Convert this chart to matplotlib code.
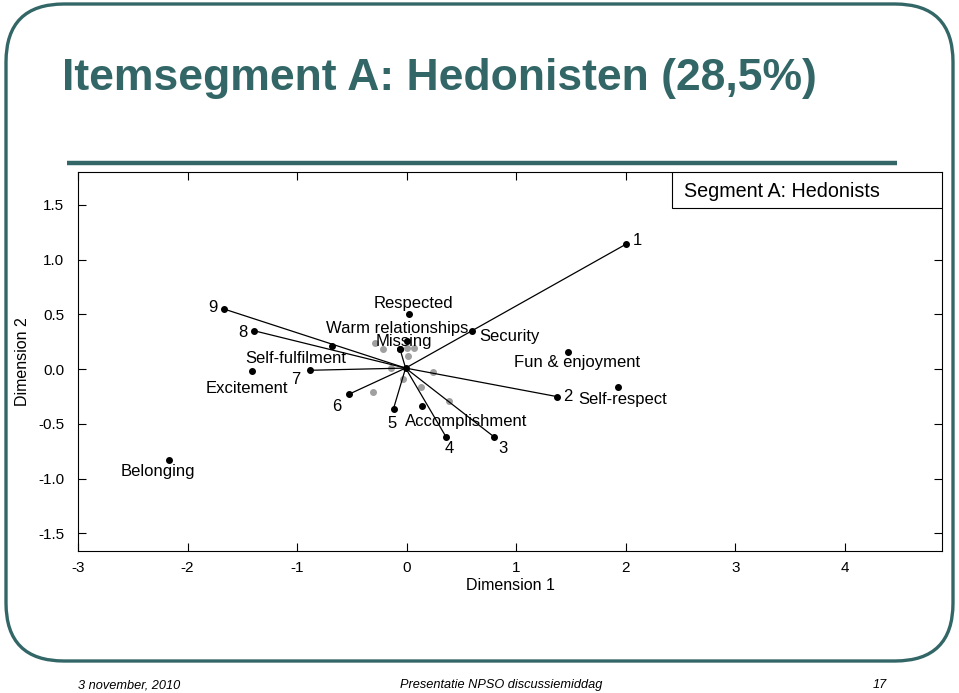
import matplotlib
matplotlib.use("Agg")
import matplotlib.pyplot as plt
from matplotlib.patches import FancyBboxPatch, Rectangle

plt.rcParams['font.family'] = ['Liberation Sans', 'DejaVu Sans']

# item vectors (CATPCA loadings)
vec_labels = ["1", "2", "3", "4", "5", "6", "7", "8", "9", ""]
vec_x = [2.00, 1.37, 0.80, 0.36, -0.12, -0.53, -0.88, -1.39, -1.67, -0.06]
vec_y = [1.14, -0.25, -0.62, -0.62, -0.36, -0.23, -0.01, 0.35, 0.55, 0.18]
origin = (-0.01, 0.01)

# category points
cat_names = ["Respected", "Warm relationships", "Security", "Missing",
             "Fun & enjoyment", "Self-respect", "Accomplishment",
             "Self-fulfilment", "Excitement", "Belonging"]
cat_x = [0.02, 0.00, 0.60, -0.06, 1.47, 1.93, 0.14, -0.68, -1.41, -2.17]
cat_y = [0.50, 0.26, 0.35, 0.18, 0.16, -0.16, -0.34, 0.21, -0.02, -0.83]

# object scores (grey)
obj_x = [-0.29, -0.22, 0.00, 0.07, 0.01, -0.14, -0.03, 0.24, 0.13, -0.31, 0.39]
obj_y = [0.24, 0.18, 0.19, 0.19, 0.12, 0.01, -0.09, -0.03, -0.16, -0.21, -0.29]

xticks = [-3, -2, -1, 0, 1, 2, 3, 4]
yticks = [-1.5, -1.0, -0.5, 0.0, 0.5, 1.0, 1.5]

# label offsets in points
vec_off = [(8, 3), (8, 0), (6.5, -8.5), (2, -8), (-1, -11), (-8.5, -8.5),
           (-10.5, -6.5), (-8.5, -1), (-7.5, 1), (0, 0)]
cat_off = [(3, 8), (-7, 9), (5, -4), (3, 5.5), (6.5, -8), (3, -9),
           (31.5, -11), (-26, -9), (-4, -12.5), (-8, -8.5)]
cat_ha = ["center", "center", "left", "center", "center", "center",
          "center", "center", "center", "center"]

teal = "#336666"
W, H = 959, 693
fig = plt.figure(figsize=(W / 100, H / 100), dpi=100)

# slide background drawn in pixel coordinates
bg = fig.add_axes([0, 0, 1, 1])
bg.set_xlim(0, W)
bg.set_ylim(H, 0)
bg.axis("off")
bg.add_patch(FancyBboxPatch((6, 4), 947, 657,
                            boxstyle="round,pad=0,rounding_size=58",
                            fc="white", ec=teal, lw=2.4))
bg.text(62, 90, "Itemsegment A: Hedonisten (28,5%)", color=teal,
        fontsize=32, fontweight="bold", ha="left", va="baseline")
bg.plot([67, 897], [163, 163], color=teal, lw=3.2, solid_capstyle="butt")
foot = dict(fontsize=9.2, style="italic", va="baseline")
bg.text(78, 688, "3 november, 2010", ha="left", **foot)
bg.text(501, 688, "Presentatie NPSO discussiemiddag", ha="center", **foot)
bg.text(887, 688, "17", ha="right", **foot)

ax = fig.add_axes([78 / W, 1 - 551 / H, 864 / W, 379 / H])
ax.set_xlim(-3.0, 4.886)
ax.set_ylim(-1.66, 1.80)

for vx, vy in zip(vec_x, vec_y):
    ax.plot([origin[0], vx], [origin[1], vy], color="black", lw=0.9, zorder=2)
ax.plot([origin[0]], [origin[1]], "o", color="black", ms=4, zorder=3)
ax.plot(vec_x, vec_y, "o", color="black", ms=4, ls="none", zorder=3)
ax.plot(obj_x, obj_y, "o", color="#a0a0a0", ms=4, ls="none", zorder=1)
ax.plot(cat_x, cat_y, "o", color="black", ms=4, ls="none", zorder=3)

for lab, vx, vy, off in zip(vec_labels, vec_x, vec_y, vec_off):
    ax.annotate(lab, (vx, vy), xytext=off, textcoords="offset points",
                ha="center", va="center", fontsize=12)
for lab, cx, cy, off, ha in zip(cat_names, cat_x, cat_y, cat_off, cat_ha):
    ax.annotate(lab, (cx, cy), xytext=off, textcoords="offset points",
                ha=ha, va="center", fontsize=12)

ax.set_xticks(xticks)
ax.set_xticklabels([str(t) for t in xticks])
ax.set_yticks(yticks)
ax.set_yticklabels(["%.1f" % t for t in yticks])
ax.tick_params(direction="in", length=6, width=0.8, labelsize=11,
               top=True, right=True)
ax.tick_params(axis="x", pad=7)
ax.tick_params(axis="y", pad=10)
for s in ax.spines.values():
    s.set_linewidth(0.8)
ax.set_xlabel("Dimension 1", fontsize=11.5, labelpad=2)
ax.set_ylabel("Dimension 2", fontsize=11.5, labelpad=6)

# caption box in the top right corner
ax.add_patch(Rectangle((0.6875, 0.905), 0.3125, 0.095, transform=ax.transAxes,
                       fc="white", ec="black", lw=0.8, zorder=4))
ax.text(0.701, 0.948, "Segment A: Hedonists", transform=ax.transAxes,
        fontsize=14.2, ha="left", va="center", zorder=5)

fig.savefig("out.png", dpi=100)
